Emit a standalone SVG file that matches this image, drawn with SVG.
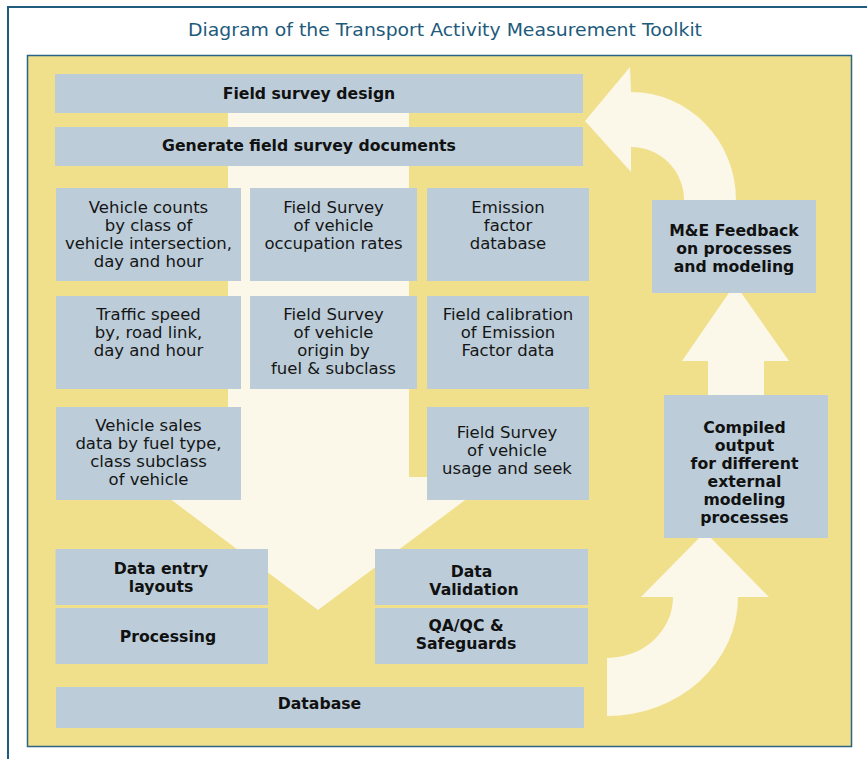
<svg xmlns="http://www.w3.org/2000/svg" width="867" height="759" viewBox="0 0 867 759">
  <style>
    .box { fill: #bccdd9; }
    .flow { fill: #fbf7e9; }
    .t { font-family: "DejaVu Sans", "Liberation Sans", sans-serif; font-size: 16.5px; fill: #151515; text-anchor: middle; }
    .b { font-family: "DejaVu Sans", "Liberation Sans", sans-serif; font-size: 15.7px; font-weight: bold; fill: #111; text-anchor: middle; }
    .title { font-family: "DejaVu Sans", "Liberation Sans", sans-serif; font-size: 18.5px; fill: #1d5a7b; text-anchor: middle; }
  </style>

  <!-- page frame -->
  <rect x="0" y="0" width="867" height="759" fill="#ffffff"/>
  <rect x="8" y="7" width="880" height="780" fill="none" stroke="#1f5c7e" stroke-width="2"/>
  <text class="title" x="445" y="36" textLength="514" lengthAdjust="spacingAndGlyphs">Diagram of the Transport Activity Measurement Toolkit</text>

  <!-- yellow panel -->
  <rect x="27.5" y="55.5" width="824" height="691" fill="#f1e08b" stroke="#2b6485" stroke-width="1.5"/>

  <!-- flow arrows -->
  <g id="connectors">
    <!-- main downward arrow -->
    <path class="flow" d="M228,100 L409,100 L409,477 L496,477 L318,610 L141,477 L228,477 Z"/>
    <!-- curved arrow: database to compiled output -->
    <path class="flow" d="M607,658 A66,61 0 0 0 673,597 L641,597 L705,532 L769,597 L738,597 A131,119 0 0 1 607,716 Z"/>
    <!-- straight arrow: compiled output to feedback -->
    <path class="flow" d="M708,400 L708,361 L682,361 L735,284 L789,361 L764,361 L764,400 Z"/>
    <!-- curved arrow: feedback back to survey design -->
    <path class="flow" d="M684,205 L684,200 A53,53 0 0 0 631,147 L631,172 L585,121 L630,67 L631,92 A105,108 0 0 1 736,200 L736,205 Z"/>
  </g>

  <!-- top rows -->
  <g id="survey-design">
    <rect class="box" x="55" y="74" width="528" height="39"/>
    <text class="b" x="309" y="99">Field survey design</text>
  </g>
  <g id="survey-documents">
    <rect class="box" x="55" y="127" width="528" height="39"/>
    <text class="b" x="309" y="151">Generate field survey documents</text>
  </g>

  <!-- data collection grid -->
  <g id="vehicle-counts">
    <rect class="box" x="56" y="188" width="185" height="93"/>
    <text class="t" x="148.5" y="213">Vehicle counts</text>
    <text class="t" x="148.5" y="231">by class of</text>
    <text class="t" x="148.5" y="249">vehicle intersection,</text>
    <text class="t" x="148.5" y="267">day and hour</text>
  </g>
  <g id="occupation-rates">
    <rect class="box" x="250" y="188" width="167" height="93"/>
    <text class="t" x="333.5" y="213">Field Survey</text>
    <text class="t" x="333.5" y="231">of vehicle</text>
    <text class="t" x="333.5" y="249">occupation rates</text>
  </g>
  <g id="emission-factor-db">
    <rect class="box" x="427" y="188" width="162" height="93"/>
    <text class="t" x="508" y="213">Emission</text>
    <text class="t" x="508" y="231">factor</text>
    <text class="t" x="508" y="249">database</text>
  </g>
  <g id="traffic-speed">
    <rect class="box" x="56" y="296" width="185" height="93"/>
    <text class="t" x="148.5" y="320">Traffic speed</text>
    <text class="t" x="148.5" y="338">by, road link,</text>
    <text class="t" x="148.5" y="356">day and hour</text>
  </g>
  <g id="vehicle-origin">
    <rect class="box" x="250" y="296" width="167" height="93"/>
    <text class="t" x="333.5" y="320">Field Survey</text>
    <text class="t" x="333.5" y="338">of vehicle</text>
    <text class="t" x="333.5" y="356">origin by</text>
    <text class="t" x="333.5" y="374">fuel &amp; subclass</text>
  </g>
  <g id="emission-calibration">
    <rect class="box" x="427" y="296" width="162" height="93"/>
    <text class="t" x="508" y="320">Field calibration</text>
    <text class="t" x="508" y="338">of Emission</text>
    <text class="t" x="508" y="356">Factor data</text>
  </g>
  <g id="vehicle-sales">
    <rect class="box" x="56" y="407" width="185" height="93"/>
    <text class="t" x="148.5" y="431">Vehicle sales</text>
    <text class="t" x="148.5" y="449">data by fuel type,</text>
    <text class="t" x="148.5" y="467">class subclass</text>
    <text class="t" x="148.5" y="485">of vehicle</text>
  </g>
  <g id="vehicle-usage">
    <rect class="box" x="427" y="407" width="162" height="93"/>
    <text class="t" x="507" y="438">Field Survey</text>
    <text class="t" x="507" y="456">of vehicle</text>
    <text class="t" x="507" y="474">usage and seek</text>
  </g>

  <!-- processing blocks -->
  <g id="data-entry">
    <rect class="box" x="55.5" y="549" width="212.5" height="56"/>
    <text class="b" x="161" y="574">Data entry</text>
    <text class="b" x="161" y="592">layouts</text>
  </g>
  <g id="processing">
    <rect class="box" x="55.5" y="608" width="212.5" height="56"/>
    <text class="b" x="168" y="642">Processing</text>
  </g>
  <g id="data-validation">
    <rect class="box" x="375" y="549" width="213" height="56"/>
    <text class="b" x="471.5" y="576.5">Data</text>
    <text class="b" x="474" y="594.5">Validation</text>
  </g>
  <g id="qa-qc">
    <rect class="box" x="375" y="608" width="213" height="56"/>
    <text class="b" x="466" y="631">QA/QC &amp;</text>
    <text class="b" x="466" y="649">Safeguards</text>
  </g>
  <g id="database">
    <rect class="box" x="56" y="687" width="528" height="41"/>
    <text class="b" x="319.5" y="709">Database</text>
  </g>

  <!-- output and feedback -->
  <g id="compiled-output">
    <rect class="box" x="664" y="395" width="164" height="143"/>
    <text class="b" x="744.5" y="433">Compiled</text>
    <text class="b" x="744.5" y="451">output</text>
    <text class="b" x="744.5" y="469">for different</text>
    <text class="b" x="744.5" y="487">external</text>
    <text class="b" x="744.5" y="505">modeling</text>
    <text class="b" x="744.5" y="523">processes</text>
  </g>
  <g id="me-feedback">
    <rect class="box" x="652" y="200" width="164" height="93"/>
    <text class="b" x="734" y="236">M&amp;E Feedback</text>
    <text class="b" x="734" y="254">on processes</text>
    <text class="b" x="734" y="272">and modeling</text>
  </g>
</svg>
